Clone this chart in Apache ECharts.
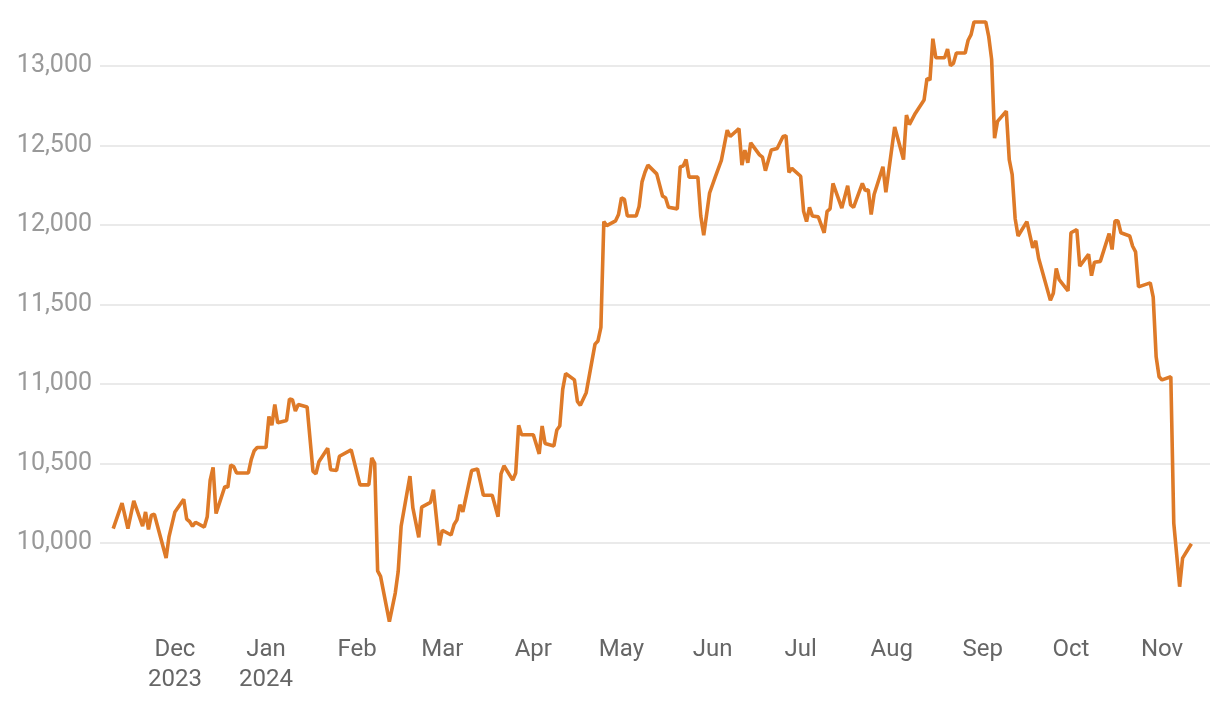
<!DOCTYPE html>
<html>
<head>
<meta charset="utf-8">
<style>
  html, body { margin: 0; padding: 0; background: #fff; }
  #chart { width: 1220px; height: 702px; }
</style>
<script src="https://cdn.jsdelivr.net/npm/echarts@6/dist/echarts.min.js"></script>
</head>
<body>
<div id="chart"></div>
<script>
// daily closes
const dates = [
  '2023-11-10', '2023-11-13', '2023-11-15', '2023-11-17', '2023-11-20', '2023-11-21', '2023-11-22', '2023-11-23',
  '2023-11-24', '2023-11-28', '2023-11-29', '2023-12-01', '2023-12-04', '2023-12-05', '2023-12-06', '2023-12-07',
  '2023-12-08', '2023-12-11', '2023-12-12', '2023-12-13', '2023-12-14', '2023-12-15', '2023-12-18', '2023-12-19',
  '2023-12-20', '2023-12-21', '2023-12-22', '2023-12-26', '2023-12-27', '2023-12-28', '2023-12-29', '2024-01-01',
  '2024-01-02', '2024-01-03', '2024-01-04', '2024-01-05', '2024-01-08', '2024-01-09', '2024-01-10', '2024-01-11',
  '2024-01-12', '2024-01-15', '2024-01-17', '2024-01-18', '2024-01-19', '2024-01-22', '2024-01-23', '2024-01-25',
  '2024-01-26', '2024-01-30', '2024-02-02', '2024-02-05', '2024-02-06', '2024-02-07', '2024-02-08', '2024-02-09',
  '2024-02-12', '2024-02-14', '2024-02-15', '2024-02-16', '2024-02-19', '2024-02-20', '2024-02-22', '2024-02-23',
  '2024-02-26', '2024-02-27', '2024-02-29', '2024-03-01', '2024-03-04', '2024-03-05', '2024-03-06', '2024-03-07',
  '2024-03-08', '2024-03-11', '2024-03-13', '2024-03-15', '2024-03-18', '2024-03-20', '2024-03-21', '2024-03-22',
  '2024-03-25', '2024-03-26', '2024-03-27', '2024-03-28', '2024-04-01', '2024-04-03', '2024-04-04', '2024-04-05',
  '2024-04-08', '2024-04-09', '2024-04-10', '2024-04-11', '2024-04-12', '2024-04-15', '2024-04-16', '2024-04-17',
  '2024-04-19', '2024-04-22', '2024-04-23', '2024-04-24', '2024-04-25', '2024-04-26', '2024-04-29', '2024-04-30',
  '2024-05-01', '2024-05-02', '2024-05-03', '2024-05-06', '2024-05-07', '2024-05-08', '2024-05-09', '2024-05-10',
  '2024-05-13', '2024-05-15', '2024-05-16', '2024-05-17', '2024-05-20', '2024-05-21', '2024-05-22', '2024-05-23',
  '2024-05-24', '2024-05-27', '2024-05-28', '2024-05-29', '2024-05-31', '2024-06-02', '2024-06-04', '2024-06-06',
  '2024-06-07', '2024-06-10', '2024-06-11', '2024-06-12', '2024-06-13', '2024-06-14', '2024-06-17', '2024-06-18',
  '2024-06-19', '2024-06-21', '2024-06-23', '2024-06-25', '2024-06-26', '2024-06-27', '2024-06-28', '2024-07-01',
  '2024-07-02', '2024-07-03', '2024-07-04', '2024-07-05', '2024-07-07', '2024-07-09', '2024-07-10', '2024-07-11',
  '2024-07-12', '2024-07-15', '2024-07-17', '2024-07-18', '2024-07-19', '2024-07-22', '2024-07-23', '2024-07-24',
  '2024-07-25', '2024-07-26', '2024-07-29', '2024-07-30', '2024-08-02', '2024-08-05', '2024-08-06', '2024-08-07',
  '2024-08-09', '2024-08-12', '2024-08-13', '2024-08-14', '2024-08-15', '2024-08-16', '2024-08-19', '2024-08-20',
  '2024-08-21', '2024-08-22', '2024-08-23', '2024-08-26', '2024-08-27', '2024-08-28', '2024-08-29', '2024-09-02',
  '2024-09-03', '2024-09-04', '2024-09-05', '2024-09-06', '2024-09-09', '2024-09-10', '2024-09-11', '2024-09-12',
  '2024-09-13', '2024-09-16', '2024-09-18', '2024-09-19', '2024-09-20', '2024-09-24', '2024-09-25', '2024-09-26',
  '2024-09-27', '2024-09-30', '2024-10-01', '2024-10-03', '2024-10-04', '2024-10-07', '2024-10-08', '2024-10-09',
  '2024-10-11', '2024-10-14', '2024-10-15', '2024-10-16', '2024-10-17', '2024-10-18', '2024-10-21', '2024-10-22',
  '2024-10-23', '2024-10-24', '2024-10-28', '2024-10-29', '2024-10-30', '2024-10-31', '2024-11-01', '2024-11-04',
  '2024-11-05', '2024-11-07', '2024-11-08', '2024-11-11'
];

const closes = [
  10090, 10250, 10090, 10265, 10105, 10195, 10085, 10175,
  10180, 9905, 10040, 10195, 10275, 10150, 10135, 10105,
  10130, 10100, 10165, 10395, 10475, 10185, 10355, 10350,
  10490, 10480, 10440, 10440, 10525, 10580, 10600, 10600,
  10795, 10740, 10870, 10755, 10770, 10905, 10900, 10830,
  10870, 10855, 10450, 10435, 10510, 10595, 10460, 10455,
  10545, 10585, 10365, 10365, 10535, 10500, 9825, 9790,
  9505, 9685, 9820, 10105, 10420, 10220, 10035, 10225,
  10255, 10335, 9985, 10080, 10050, 10115, 10145, 10240,
  10195, 10455, 10465, 10300, 10300, 10165, 10435, 10485,
  10395, 10440, 10740, 10680, 10680, 10560, 10735, 10625,
  10610, 10710, 10735, 10965, 11065, 11025, 10890, 10865,
  10945, 11250, 11270, 11355, 12020, 11995, 12025, 12065,
  12170, 12160, 12055, 12055, 12115, 12270, 12330, 12375,
  12320, 12180, 12170, 12110, 12100, 12365, 12370, 12410,
  12300, 12300, 12055, 11935, 12200, 12305, 12405, 12595,
  12555, 12605, 12375, 12470, 12390, 12515, 12440, 12425,
  12340, 12470, 12480, 12555, 12560, 12330, 12355, 12305,
  12085, 12020, 12110, 12055, 12050, 11950, 12085, 12100,
  12260, 12105, 12245, 12125, 12110, 12260, 12215, 12220,
  12065, 12190, 12365, 12205, 12615, 12410, 12690, 12630,
  12700, 12785, 12920, 12910, 13170, 13050, 13050, 13105,
  13000, 13015, 13080, 13080, 13160, 13195, 13275, 13275,
  13185, 13040, 12545, 12650, 12715, 12410, 12315, 12040,
  11930, 12020, 11855, 11900, 11790, 11525, 11570, 11725,
  11655, 11585, 11950, 11970, 11740, 11815, 11680, 11765,
  11770, 11945, 11845, 12025, 12025, 11950, 11930, 11865,
  11830, 11610, 11635, 11545, 11170, 11045, 11025, 11045,
  10125, 9725, 9905, 9995
];

const monthNames = ['Jan', 'Feb', 'Mar', 'Apr', 'May', 'Jun', 'Jul', 'Aug', 'Sep', 'Oct', 'Nov', 'Dec'];

const chart = echarts.init(document.getElementById('chart'));

chart.setOption({
  backgroundColor: '#fff',
  animation: false,
  grid: {
    left: 100,
    right: 10,
    top: 18,
    bottom: 79.5
  },
  xAxis: {
    type: 'time',
    min: '2023-11-05 12:00',
    max: '2024-11-17 08:00',
    minInterval: 28 * 86400000,
    maxInterval: 31 * 86400000,
    axisLine: { show: false },
    axisTick: { show: false },
    splitLine: { show: false },
    axisLabel: {
      color: '#666',
      fontFamily: 'Roboto',
      fontSize: 24,
      lineHeight: 30,
      margin: 12,
      formatter: function (val) {
        const d = new Date(val);
        const m = d.getMonth();
        // year is only written under the first two months
        if (m === 11 && d.getFullYear() === 2023) return 'Dec\n2023';
        if (m === 0) return 'Jan\n' + d.getFullYear();
        return monthNames[m];
      }
    }
  },
  yAxis: {
    type: 'value',
    min: 9500,
    max: 13300,
    interval: 500,
    axisLine: { show: false },
    axisTick: { show: false },
    splitLine: {
      showMinLine: false,
      showMaxLine: false,
      lineStyle: { color: '#e3e3e3', width: 1.5 }
    },
    axisLabel: {
      showMinLabel: false,
      showMaxLabel: false,
      color: '#999',
      fontFamily: 'Roboto',
      fontSize: 25,
      margin: 8,
      formatter: function (v) {
        return v.toLocaleString('en-US');
      }
    }
  },
  series: [{
    type: 'line',
    data: dates.map((d, i) => [d, closes[i]]),
    showSymbol: false,
    lineStyle: { color: '#de7a28', width: 3.6 },
    itemStyle: { color: '#de7a28' }
  }]
});
</script>
</body>
</html>
